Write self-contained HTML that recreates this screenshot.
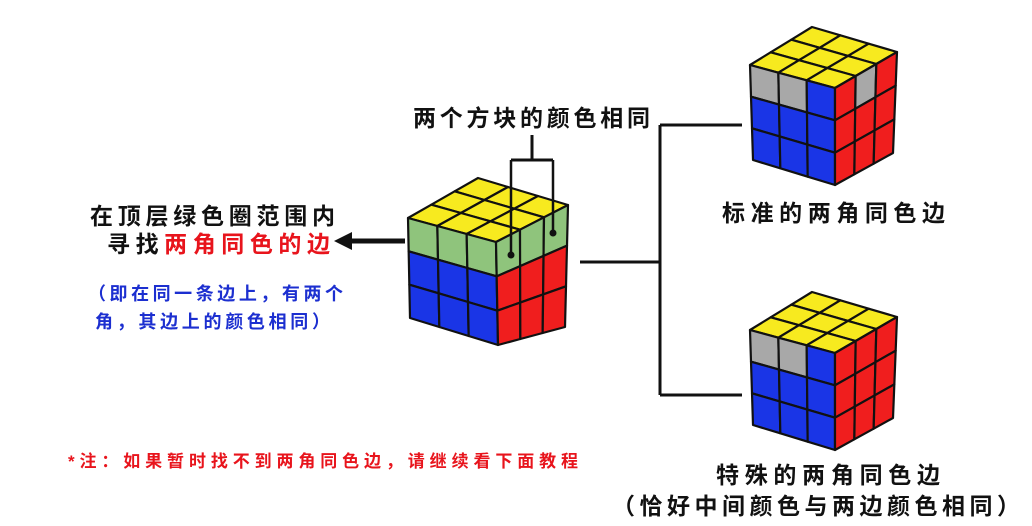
<!DOCTYPE html>
<html><head><meta charset="utf-8"><style>
body{margin:0;background:#fff;width:1032px;height:521px;overflow:hidden}
text{font-family:"Liberation Sans","Noto Sans CJK SC",sans-serif;font-weight:bold}
</style></head><body>
<svg id="s" width="1032" height="521" xmlns="http://www.w3.org/2000/svg">
<g stroke="#111" stroke-width="3" fill="none">
<line x1="532" y1="135" x2="532" y2="160"/>
<line x1="511" y1="160" x2="553" y2="160"/>
<line x1="580" y1="262" x2="660" y2="262"/>
<line x1="660" y1="125" x2="660" y2="395"/>
<line x1="660" y1="125" x2="742" y2="125"/>
<line x1="660" y1="395" x2="742" y2="395"/>
</g>
<g id="cubes"></g>
<g stroke="#111" stroke-width="2.5"><line x1="511" y1="160" x2="511" y2="255"/><line x1="553" y1="160" x2="553" y2="233"/></g>
<circle cx="511" cy="255" r="3.5" fill="#111"/><circle cx="553" cy="233" r="3.5" fill="#111"/>
<line x1="405" y1="241" x2="350" y2="241" stroke="#111" stroke-width="5"/>
<polygon points="334,241 352,232 352,250" fill="#111"/>
<text x="413" y="126" font-size="23" fill="#111" textLength="237" lengthAdjust="spacing">两个方块的颜色相同</text>
<text x="90" y="224" font-size="23" fill="#111" textLength="245" lengthAdjust="spacing">在顶层绿色圈范围内</text>
<text x="107" y="252" font-size="23" fill="#111" textLength="223" lengthAdjust="spacing">寻找<tspan fill="#e8141c">两角同色的边</tspan></text>
<text x="88" y="300" font-size="18" fill="#1c2fd0" textLength="255" lengthAdjust="spacing">（即在同一条边上，有两个</text>
<text x="95" y="328" font-size="18" fill="#1c2fd0" textLength="235" lengthAdjust="spacing">角，其边上的颜色相同）</text>
<text x="68" y="467" font-size="17" fill="#e8141c" textLength="510" lengthAdjust="spacing">*注：如果暂时找不到两角同色边，请继续看下面教程</text>
<text x="722" y="221" font-size="23" fill="#111" textLength="223" lengthAdjust="spacing">标准的两角同色边</text>
<text x="716" y="483" font-size="23" fill="#111" textLength="224" lengthAdjust="spacing">特殊的两角同色边</text>
<text x="612" y="514" font-size="23" fill="#111" textLength="408" lengthAdjust="spacing">（恰好中间颜色与两边颜色相同）</text>
</svg>
<script>
var Y='#f7ea1f',B='#1a35e6',R='#f01e1e',G='#8fc47c',W='#a8a8a8';
function L(p,q,t){return[p[0]+(q[0]-p[0])*t,p[1]+(q[1]-p[1])*t]}
function bil(a,b,c,d,u,v){var p=L(a,b,u),q=L(d,c,u);return L(p,q,v)}
var out='';
function face(a,b,c,d,cols){for(var r=0;r<3;r++)for(var k=0;k<3;k++){var pts=[[k/3,r/3],[(k+1)/3,r/3],[(k+1)/3,(r+1)/3],[k/3,(r+1)/3]].map(function(x){return bil(a,b,c,d,x[0],x[1]).join(',')}).join(' ');out+='<polygon points="'+pts+'" fill="'+cols[r*3+k]+'" stroke="#111" stroke-width="2.2" stroke-linejoin="round"/>';}}
function cube(A,Bp,C,D,E,F,Gp,top,fr,rt){face(D,C,Bp,A,top);face(A,Bp,F,E,fr);face(Bp,C,Gp,F,rt);}
function off(p,dx,dy){return[p[0]+dx,p[1]+dy]}
var t9=[Y,Y,Y,Y,Y,Y,Y,Y,Y];
cube([408,218],[496,242],[568,205],[478,178],[410,318],[498,345],[565,327],t9,[G,G,G,B,B,B,B,B,B],[G,G,G,R,R,R,R,R,R]);
var A2=[750,65],B2=[835,88],C2=[897,52],D2=[812,27],E2=[753,160],F2=[835,185],G2=[893,153];
cube(A2,B2,C2,D2,E2,F2,G2,t9,[W,W,B,B,B,B,B,B,B],[R,W,R,R,R,R,R,R,R]);
var dy=265;
cube(off(A2,0,dy),off(B2,0,dy),off(C2,0,dy),off(D2,0,dy),off(E2,0,dy),off(F2,0,dy),off(G2,0,dy),t9,[W,W,B,B,B,B,B,B,B],[R,R,R,R,R,R,R,R,R]);
document.getElementById('cubes').innerHTML=out;
</script>
</body></html>
